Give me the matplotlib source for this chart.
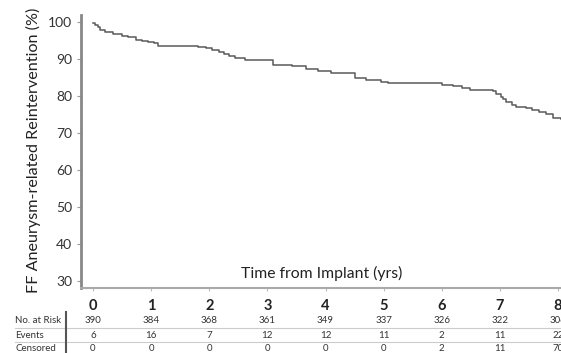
import matplotlib
matplotlib.use("Agg")
import matplotlib.pyplot as plt
import matplotlib.transforms as mtransforms

# KM curve
times = [0, 0.03, 0.08, 0.12, 0.2, 0.34, 0.5, 0.6, 0.74, 0.85, 0.94, 1.05, 1.11,
         1.6, 1.8, 1.94, 2.05, 2.17, 2.25, 2.34, 2.45, 2.62, 3.05, 3.1, 3.42, 3.67,
         3.87, 4.1, 4.45, 4.5, 4.7, 4.95, 5.07, 5.8, 6.0, 6.2, 6.35, 6.48, 6.88,
         6.94, 7.02, 7.06, 7.1, 7.2, 7.27, 7.44, 7.55, 7.67, 7.8, 7.92, 8.05]
surv = [99.8, 99.2, 98.6, 97.8, 97.2, 96.7, 96.3, 96.0, 95.1, 94.9, 94.7, 94.2, 93.5,
        93.5, 93.2, 92.9, 92.5, 92.0, 91.4, 90.7, 90.2, 89.8, 89.8, 88.4, 88.0, 87.4,
        86.8, 86.1, 86.1, 84.8, 84.4, 83.9, 83.4, 83.4, 83.0, 82.7, 82.2, 81.6, 81.4,
        80.5, 79.8, 79.2, 78.5, 77.6, 77.1, 76.7, 76.2, 75.8, 75.0, 74.0, 73.8]

xticks = [0, 1, 2, 3, 4, 5, 6, 7, 8]
yticks = [30, 40, 50, 60, 70, 80, 90, 100]
at_risk = [390, 384, 368, 361, 349, 337, 326, 322, 306]
events = [6, 16, 7, 12, 12, 11, 2, 11, 22]
censored = [0, 0, 0, 0, 0, 0, 2, 11, 70]
row_names = ["No. at Risk", "Events", "Censored"]

plt.rcParams['font.family'] = ['Lato', 'DejaVu Sans']

fig = plt.figure(figsize=(5.61, 3.53), dpi=100)
ax = fig.add_axes([81 / 561, 1 - 288 / 353, 1 - 81 / 561, (288 - 14.6) / 353])

ax.step(times, surv, where='post', color='#5a5a5a', lw=1.1)
ax.set_xlim(-0.206, 8.05)
ax.set_ylim(28.1, 102)
ax.set_xticks(xticks)
ax.set_yticks(yticks)
ax.tick_params(axis='y', labelsize=10, colors='#999999', labelcolor='#333333', length=3, width=0.8)
ax.tick_params(axis='x', labelsize=10.5, colors='#bbbbbb', labelcolor='#222222', length=2, pad=6)
for lbl in ax.get_xticklabels():
    lbl.set_fontweight('bold')
for s in ['top', 'right']:
    ax.spines[s].set_visible(False)
ax.spines['left'].set_color('#888888')
ax.spines['left'].set_linewidth(2)
ax.spines['bottom'].set_color('#aaaaaa')
ax.spines['bottom'].set_linewidth(1.5)

ax.text(3.94, 32.0, "Time from Implant (yrs)", ha='center', va='center',
        fontsize=11.3, color='#222222')
fig.text(33 / 561, 1 - 150 / 353, "FF Aneurysm-related Reintervention (%)",
         rotation=90, ha='center', va='center', fontsize=11.6, color='#222222')

# number-at-risk table
trans = mtransforms.blended_transform_factory(ax.transData, fig.transFigure)
rows = [at_risk, events, censored]
row_y = [320.5, 335, 348.5]
for name, vals, py in zip(row_names, rows, row_y):
    yf = 1 - py / 353
    fig.text(15 / 561, yf, name, ha='left', va='center', fontsize=7, color='#333333')
    for x, v in zip(xticks, vals):
        ax.text(x, yf, str(v), transform=trans, ha='center', va='center',
                fontsize=7, color='#333333', clip_on=False)
for py in [327.5, 341.5]:
    fig.add_artist(plt.Line2D([15 / 561, 1], [1 - py / 353] * 2, color='#cccccc', lw=0.8))
fig.add_artist(plt.Line2D([66 / 561] * 2, [1 - 312 / 353, 0], color='#555555', lw=1.5))

fig.savefig("out.png", dpi=100)
